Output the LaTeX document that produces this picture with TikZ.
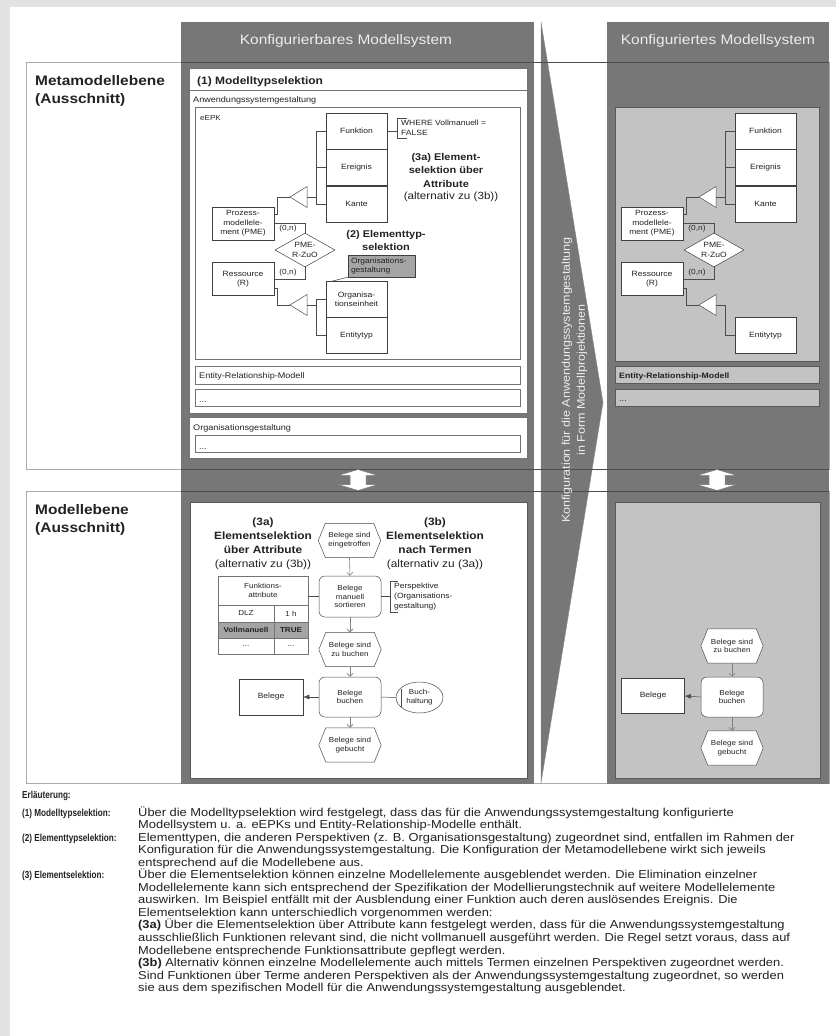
\documentclass[tikz,border=0pt]{standalone}
\usepackage{fontspec}
\setmainfont{Liberation Sans}[FakeStretch=1.12]
\newfontfamily\lblfont{Liberation Sans}[FakeStretch=0.8]
\usetikzlibrary{arrows.meta,shapes.geometric,calc}
\definecolor{bgframe}{HTML}{E1E2E3}
\definecolor{dkgray}{HTML}{777777}
\definecolor{ltgray}{HTML}{C3C3C3}
\definecolor{midgray}{HTML}{A5A5A5}
\definecolor{rowgray}{HTML}{AAAAAA}
\definecolor{hdrtext}{HTML}{EDEDED}
\definecolor{inkgray}{HTML}{222222}
\newcommand\fs[2]{\fontsize{#1}{#2}\selectfont}
\tikzset{
  rowbox/.style={draw=rowgray, fill=white, line width=0.6pt},
  sepline/.style={draw=black!70, line width=0.6pt},
  hdr/.style={font=\fs{13.8}{16}, text=hdrtext, anchor=base, inner sep=0pt},
  rowtitle/.style={font=\bfseries\fs{13.8}{16}, anchor=base west, inner sep=0pt, text=inkgray},
  wpanel/.style={draw=black!55, fill=white, line width=0.5pt},
  gpanel/.style={draw=black!65, fill=ltgray, line width=0.6pt},
  plabel/.style={font=\fs{8.1}{9}, anchor=base west, inner sep=0pt, text=inkgray},
  ebox/.style={draw=black!75, fill=white, line width=0.5pt, minimum width=61pt, minimum height=36pt, inner sep=1pt, align=center, font=\fs{7.6}{9.5}, text=inkgray},
  ediam/.style={draw=black!75, fill=white, line width=0.5pt, diamond, aspect=1.8, minimum width=60pt, minimum height=34pt, inner sep=0pt, align=center, font=\fs{7.6}{9.5}, text=inkgray},
  gbox/.style={draw=black!75, fill=midgray, line width=0.5pt, minimum width=67pt, minimum height=22pt, inner xsep=3pt, inner ysep=1pt, text width=61pt, align=left, font=\fs{7.6}{8.6}, text=inkgray},
  con/.style={draw=black!70, line width=0.5pt},
  nlbl/.style={font=\fs{7.4}{9}, inner sep=0pt, text=inkgray},
  annot/.style={font=\fs{7.6}{10}, align=left, inner xsep=4pt, inner ysep=2pt, anchor=west, text=inkgray},
  blbl/.style={font=\bfseries\fs{9.8}{13.5}, align=center, inner sep=0pt, text=inkgray},
  rlbl/.style={font=\fs{10.4}{13.5}, align=center, inner sep=0pt, text=inkgray},
  evbox/.style={minimum width=62pt, minimum height=34pt, inner sep=0pt, draw=none},
  evline/.style={draw=black!70, fill=white, line width=0.5pt},
  evtxt/.style={font=\fs{7.2}{8.8}, align=center, inner sep=0pt, text=inkgray},
  fnbox/.style={draw=black!70, fill=white, line width=0.5pt, rounded corners=6pt, minimum width=62pt, minimum height=40pt, inner sep=1pt, align=center, font=\fs{7.2}{8.8}, text=inkgray},
  flow/.style={draw=black!50, line width=0.6pt, -{Straight Barb[length=3pt,width=6pt]}},
  docarrow/.style={draw=black!70, line width=0.5pt, -{Latex[length=6pt,width=5pt]}},
  cell/.style={draw=black!55, fill=white, line width=0.5pt, inner sep=0pt, align=center, font=\fs{7.2}{8.6}, text=inkgray},
  bidi/.style={draw=black!55, fill=white, line width=0.5pt},
  expl/.style={font=\fs{11.5}{12.5}, anchor=base west, inner sep=0pt, text=inkgray},
  explb/.style={font=\lblfont\bfseries\fs{10.2}{12}, anchor=base west, inner sep=0pt, text=inkgray},
}
\newcommand\evt[3]{%
  \node[evbox] (#1) at (#2) {};
  \draw[evline] (#1.west) -- ([xshift=7pt]#1.north west) -- ([xshift=-7pt]#1.north east) -- (#1.east) -- ([xshift=-7pt]#1.south east) -- ([xshift=7pt]#1.south west) -- cycle;
  \node[evtxt] at (#1.center) {#3};}
\newcommand\bidiarrow[1]{%
  \draw[bidi] (#1,469.5) -- (#1+20,475.5) -- (#1+8,475.5) -- (#1+8,484.5) -- (#1+20,484.5) -- (#1,490.5) -- (#1-20,484.5) -- (#1-8,484.5) -- (#1-8,475.5) -- (#1-20,475.5) -- cycle;}
\newcommand\eepkcore{%
  \node[ebox] (fkt) at (356.5,131) {Funktion};
  \node[ebox] (ere) at (356.5,167.5) {Ereignis};
  \node[ebox] (kan) at (356.5,204) {Kante};
  \node[ebox, minimum height=33pt, minimum width=62pt] (pme) at (243,223.5) {Prozess-\\modellele-\\ment (PME)};
  \node[ebox, minimum height=33pt, minimum width=62pt] (res) at (243,279) {Ressource\\(R)};
  \node[ediam] (dia) at (305,250) {PME-\\R-ZuO};
  \node[ebox] (ent) at (356.5,335.5) {Entitytyp};
  \coordinate (t1a) at (290,197); \coordinate (t1b) at (307,197); \coordinate (bus1) at (316,197);
  \coordinate (t2a) at (290,305); \coordinate (t2b) at (307,305); \coordinate (bus2) at (316,305);
  \draw[con, fill=white] (t1a) -- (307,186.5) -- (307,207.5) -- cycle;
  \draw[con, fill=white] (t2a) -- (307,294.5) -- (307,315.5) -- cycle;
  \draw[con] (t1b) -- (bus1);
  \draw[con] (fkt.west) -| (bus1);
  \draw[con] (ere.west) -| (bus1);
  \draw[con] (kan.west) -| (bus1);
  \draw[con] (t1a) -- ++(-13,0) |- ([yshift=9.5pt]pme.east);
  \draw[con] (pme.east) -| (dia.north);
  \draw[con] (res.east) -| (dia.south);
  \draw[con] (t2a) -- ++(-13,0) |- ([yshift=-9pt]res.east);
  \draw[con] (t2b) -- (bus2);
  \draw[con] (ent.west) -| (bus2);
  \node[nlbl] at (288,229) {(0,n)};
  \node[nlbl] at (288,272.5) {(0,n)};}
\begin{document}
\begin{tikzpicture}[x=1pt,y=-1pt]
\useasboundingbox (0,0) rectangle (836,1036);
\fill[bgframe] (0,0) rectangle (836,1036);
\fill[white] (10,7) rectangle (836,1036);
% rows
\draw[rowbox] (26,62) rectangle (829,469);
\draw[rowbox] (26,491) rectangle (829,783);
\node[rowtitle] at (35,85) {Metamodellebene};
\node[rowtitle] at (35,103) {(Ausschnitt)};
\node[rowtitle] at (35,514) {Modellebene};
\node[rowtitle] at (35,532) {(Ausschnitt)};
% columns
\fill[dkgray] (181,22) rectangle (534,784);
\fill[dkgray] (607,22) rectangle (829,784);
\fill[dkgray] (541,22) -- (603,402.5) -- (541,783) -- cycle;
\draw[black!45, line width=0.4pt] (541,22) -- (603,402.5) -- (541,783) -- cycle;
\foreach \yy in {62,469,491} {\draw[sepline] (181,\yy) -- (829,\yy);}
\node[hdr] at (346,44) {Konfigurierbares Modellsystem};
\node[hdr] at (718,44) {Konfiguriertes Modellsystem};
\node[rotate=90, font=\fs{11.2}{15}, text=hdrtext, align=center, inner sep=0pt] at (574.5,380) {Konfiguration für die Anwendungssystemgestaltung\\in Form Modellprojektionen};
% left meta panels
\draw[wpanel] (189,68) rectangle (527,90);
\node[font=\bfseries\fs{10.7}{14}, anchor=base west, inner sep=0pt, text=inkgray] at (197,84) {(1) Modelltypselektion};
\draw[wpanel] (189,90) rectangle (527,413);
\node[plabel] at (193,102) {Anwendungssystemgestaltung};
\draw[wpanel] (195,107) rectangle (520,359);
\node[plabel, font=\fs{7.2}{9}] at (200,120) {eEPK};
\draw[wpanel] (195,366) rectangle (520,384);
\node[plabel] at (199,378) {Entity-Relationship-Modell};
\draw[wpanel] (195,389) rectangle (520,406);
\node[plabel] at (199,402) {...};
\draw[wpanel] (189,417) rectangle (527,458);
\node[plabel] at (193,430) {Organisationsgestaltung};
\draw[wpanel] (195,435) rectangle (520,452);
\node[plabel] at (199,449) {...};
% left eEPK
\eepkcore
\node[ebox] (org) at (356.5,299.5) {Organisa-\\tionseinheit};
\draw[con] (org.west) -| (bus2);
\node[gbox] (orgsel) at (381.5,266) {Organisations-\\gestaltung};
\draw[con] (orgsel.south west) -- ([xshift=6pt]org.north west);
\node[annot] (where) at (397,128) {WHERE Vollmanuell =\\FALSE};
\draw[con] ([xshift=10pt]where.north west) -- (where.north west) -- (where.south west) -- ([xshift=10pt]where.south west);
\draw[con] (fkt.east) -- (fkt.east -| where.west);
\node[blbl] at (386,240.5) {(2) Elementtyp-\\selektion};
\node[blbl] at (446,170) {(3a) Element-\\selektion über\\Attribute};
\node[rlbl] at (451,197) {(alternativ zu (3b))};
% right meta panels
\draw[gpanel] (615,107) rectangle (819,361);
\draw[gpanel] (615,366) rectangle (819,383);
\node[plabel, font=\bfseries\fs{7.8}{9}] at (619,378) {Entity-Relationship-Modell};
\draw[gpanel] (615,389) rectangle (819,406);
\node[plabel] at (619,401) {...};
\begin{scope}[xshift=409pt, name prefix=r-]
\eepkcore
\end{scope}
% bidirectional arrows
\bidiarrow{358}
\bidiarrow{717}
% bottom left panel
\draw[wpanel, draw=black!65, line width=0.7pt] (190,502) rectangle (527,778);
\node[align=center, inner sep=0pt, font=\fs{10.6}{14}, text=inkgray] at (263,544) {\textbf{(3a)}\\\textbf{Elementselektion}\\\textbf{über Attribute}\\(alternativ zu (3b))};
\node[align=center, inner sep=0pt, font=\fs{10.6}{14}, text=inkgray] at (435,544) {\textbf{(3b)}\\\textbf{Elementselektion}\\\textbf{nach Termen}\\(alternativ zu (3a))};
\evt{ev1}{349.5,540.5}{Belege sind\\eingetroffen}
\node[fnbox, minimum height=41pt] (fn1) at (350,596.5) {Belege\\manuell\\sortieren};
\evt{ev2}{350,649.5}{Belege sind\\zu buchen}
\node[fnbox] (fn2) at (350,697) {Belege\\buchen};
\evt{ev3}{350,745}{Belege sind\\gebucht}
\draw[flow] (ev1.south) -- (fn1.north);
\draw[flow] (fn1.south) -- (ev2.north);
\draw[flow] (ev2.south) -- (fn2.north);
\draw[flow] (fn2.south) -- (ev3.north);
\node[ebox, minimum width=64pt, minimum height=36pt] (doc) at (271,697) {Belege};
\draw[docarrow] (fn2.west) -- (doc.east);
\node[draw=black!70, fill=white, line width=0.5pt, ellipse, minimum width=47pt, minimum height=31pt, inner sep=0pt, align=center, font=\fs{7.2}{8.8}, text=inkgray] (buch) at (419.5,697.5) {Buch-\\haltung};
\draw[con] ([xshift=5pt,yshift=9pt]buch.west) -- ([xshift=5pt,yshift=-9pt]buch.west);
\draw[con] (fn2.east) -- (buch.west);
% attribute table
\node[cell, minimum width=90pt, minimum height=29pt] (th) at (263,590.5) {Funktions-\\attribute};
\node[cell, minimum width=56pt, minimum height=17pt] (c11) at (246,613.5) {DLZ};
\node[cell, minimum width=34pt, minimum height=17pt] (c12) at (291,613.5) {1 h};
\node[cell, fill=midgray, minimum width=56pt, minimum height=16pt, font=\bfseries\fs{7.2}{8.6}] (c21) at (246,630) {Vollmanuell};
\node[cell, fill=midgray, minimum width=34pt, minimum height=16pt, font=\bfseries\fs{7.2}{8.6}] (c22) at (291,630) {TRUE};
\node[cell, minimum width=56pt, minimum height=16pt] (c31) at (246,646) {...};
\node[cell, minimum width=34pt, minimum height=16pt] (c32) at (291,646) {...};
\draw[con] (fn1.west) -- (fn1.west -| th.east);
\node[annot] (persp) at (390,597) {Perspektive\\(Organisations-\\gestaltung)};
\draw[con] ([xshift=8pt]persp.north west) -- (persp.north west) -- (persp.south west) -- ([xshift=8pt]persp.south west);
\draw[con] (fn1.east) -- (fn1.east -| persp.west);
% bottom right panel
\draw[gpanel, line width=0.7pt] (615,502) rectangle (820,778);
\begin{scope}[name prefix=rb-]
\evt{ev2}{732,646}{Belege sind\\zu buchen}
\node[fnbox] (fn2) at (732,697) {Belege\\buchen};
\evt{ev3}{732,748}{Belege sind\\gebucht}
\node[ebox, minimum width=63pt, minimum height=35pt] (doc) at (653,696) {Belege};
\draw[flow] (ev2.south) -- (fn2.north);
\draw[flow] (fn2.south) -- (ev3.north);
\draw[docarrow] (fn2.west) -- (doc.east);
\end{scope}
% explanation
\node[explb] at (22,798.5) {Erläuterung:};
\node[explb] at (22,816) {(1) Modelltypselektion:};
\node[explb] at (22,841.1) {(2) Elementtypselektion:};
\node[explb] at (22,878.75) {(3) Elementselektion:};
\node[expl] at (138,816) {Über die Modelltypselektion wird festgelegt, dass das für die Anwendungssystemgestaltung konfigurierte};
\node[expl] at (138,828.55) {Modellsystem u. a. eEPKs und Entity-Relationship-Modelle enthält.};
\node[expl] at (138,841.1) {Elementtypen, die anderen Perspektiven (z. B. Organisationsgestaltung) zugeordnet sind, entfallen im Rahmen der};
\node[expl] at (138,853.65) {Konfiguration für die Anwendungssystemgestaltung. Die Konfiguration der Metamodellebene wirkt sich jeweils};
\node[expl] at (138,866.2) {entsprechend auf die Modellebene aus.};
\node[expl] at (138,878.75) {Über die Elementselektion können einzelne Modellelemente ausgeblendet werden. Die Elimination einzelner};
\node[expl] at (138,891.3) {Modellelemente kann sich entsprechend der Spezifikation der Modellierungstechnik auf weitere Modellelemente};
\node[expl] at (138,903.85) {auswirken. Im Beispiel entfällt mit der Ausblendung einer Funktion auch deren auslösendes Ereignis. Die};
\node[expl] at (138,916.4) {Elementselektion kann unterschiedlich vorgenommen werden:};
\node[expl] at (138,928.95) {\textbf{(3a)} Über die Elementselektion über Attribute kann festgelegt werden, dass für die Anwendungssystemgestaltung};
\node[expl] at (138,941.5) {ausschließlich Funktionen relevant sind, die nicht vollmanuell ausgeführt werden. Die Regel setzt voraus, dass auf};
\node[expl] at (138,954.05) {Modellebene entsprechende Funktionsattribute gepflegt werden.};
\node[expl] at (138,966.6) {\textbf{(3b)} Alternativ können einzelne Modellelemente auch mittels Termen einzelnen Perspektiven zugeordnet werden.};
\node[expl] at (138,979.15) {Sind Funktionen über Terme anderen Perspektiven als der Anwendungssystemgestaltung zugeordnet, so werden};
\node[expl] at (138,991.7) {sie aus dem spezifischen Modell für die Anwendungssystemgestaltung ausgeblendet.};
\end{tikzpicture}
\end{document}
